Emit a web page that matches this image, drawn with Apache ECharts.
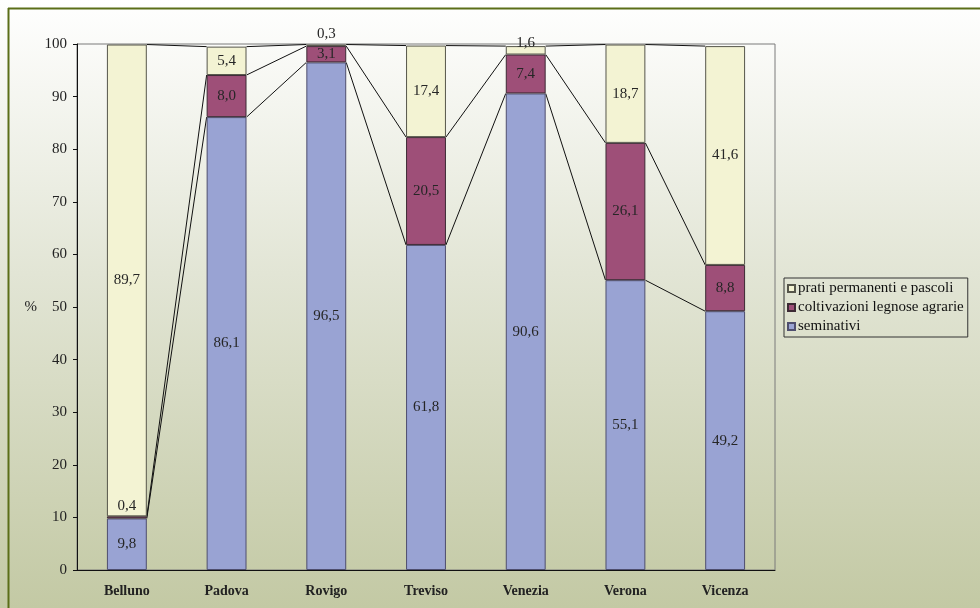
<!DOCTYPE html>
<html>
<head>
<meta charset="utf-8">
<script src="https://cdn.jsdelivr.net/npm/echarts@6/dist/echarts.min.js"></script>
<style>
  html, body { margin: 0; padding: 0; }
  #chart { width: 980px; height: 608px; }
</style>
</head>
<body>
<div id="chart"></div>
<script>
// Province of the Veneto region
const categories = ['Belluno', 'Padova', 'Rovigo', 'Treviso', 'Venezia', 'Verona', 'Vicenza'];

// Share of utilised agricultural area (%) by land use
const seminativi = [9.8, 86.1, 96.5, 61.8, 90.6, 55.1, 49.2];
const coltivazioniLegnose = [0.4, 8.0, 3.1, 20.5, 7.4, 26.1, 8.8];
const pratiPascoli = [89.7, 5.4, 0.3, 17.4, 1.6, 18.7, 41.6];

const yTicks = [0, 10, 20, 30, 40, 50, 60, 70, 80, 90, 100];

const seriesNames = ['seminativi', 'coltivazioni legnose agrarie', 'prati permanenti e pascoli'];
const stacks = [seminativi, coltivazioniLegnose, pratiPascoli];

// cumulative tops of each stacked segment, per province
const cumulative = categories.map((_, i) => {
  let s = 0;
  return stacks.map(arr => (s += arr[i]));
});

const BAR_RATIO = 0.4;
const serif = '"Liberation Serif", "Times New Roman", serif';

function fmt(v) { return v.toFixed(1).replace('.', ','); }

function labelFor(v) {
  // tiny segments carry their label just above them
  if (v < 1) return { show: true, position: 'top', distance: 3 };
  if (v < 2) return { show: true, position: 'inside', offset: [0, -7] };
  return { show: true, position: 'inside' };
}

const colors = ['#99a3d3', '#9e4f78', '#f3f3d3'];
const borders = ['#4e4e6e', '#3c2a34', '#55554a'];

const barSeries = stacks.map((arr, k) => ({
  name: seriesNames[k],
  type: 'bar',
  stack: 'total',
  barWidth: (BAR_RATIO * 100) + '%',
  itemStyle: { color: colors[k], borderColor: borders[k], borderWidth: 1 },
  label: {
    color: '#262626',
    fontFamily: serif,
    fontSize: 15,
    formatter: p => fmt(p.value)
  },
  data: arr.map(v => ({ value: v, label: labelFor(v) })),
  z: 3
}));

// Series lines linking the tops of the stacked segments of neighbouring bars
const linkData = categories.slice(0, -1).map((_, i) => [i].concat(cumulative[i], cumulative[i + 1]));

const linkSeries = {
  type: 'custom',
  silent: true,
  z: 2,
  data: linkData,
  encode: { x: 0, y: 1 },
  renderItem: function (params, api) {
    const i = api.value(0);
    const half = api.size([1, 0])[0] * BAR_RATIO / 2;
    const children = [];
    for (let k = 0; k < 3; k++) {
      const a = api.coord([i, api.value(1 + k)]);
      const b = api.coord([i + 1, api.value(4 + k)]);
      children.push({
        type: 'line',
        shape: { x1: a[0] + half, y1: a[1], x2: b[0] - half, y2: b[1] },
        style: { stroke: '#111', lineWidth: 1 }
      });
    }
    return { type: 'group', children: children };
  }
};

const chart = echarts.init(document.getElementById('chart'), null, { renderer: 'canvas' });

chart.setOption({
  animation: false,
  backgroundColor: {
    type: 'linear', x: 0, y: 0, x2: 0, y2: 1,
    colorStops: [
      { offset: 0, color: '#ffffff' },
      { offset: 0.45, color: '#e2e5d5' },
      { offset: 1, color: '#c3c9a4' }
    ]
  },
  graphic: [
    { type: 'line', shape: { x1: 8, y1: 8.5, x2: 980, y2: 8.5 }, style: { stroke: '#5b6e18', lineWidth: 2 } },
    { type: 'line', shape: { x1: 8.5, y1: 8, x2: 8.5, y2: 608 }, style: { stroke: '#5b6e18', lineWidth: 2 } }
  ],
  grid: {
    left: 77, right: 205, top: 44, bottom: 38,
    show: true, borderColor: '#7a7a7a', borderWidth: 1, backgroundColor: 'transparent'
  },
  legend: {
    orient: 'vertical',
    left: 784, top: 278,
    data: seriesNames.slice().reverse(),
    itemWidth: 7, itemHeight: 7, itemGap: 4,
    padding: [3, 4, 3, 3],
    borderColor: '#333', borderWidth: 1,
    textStyle: { fontFamily: serif, fontSize: 15, color: '#111', padding: [0, 0, 0, -2] },
    icon: 'rect'
  },
  xAxis: {
    type: 'category',
    data: categories,
    axisLine: { lineStyle: { color: '#111', width: 1 } },
    axisTick: { show: false },
    axisLabel: { fontFamily: serif, fontWeight: 'bold', fontSize: 14, color: '#222', margin: 14 }
  },
  yAxis: {
    type: 'value',
    min: 0, max: 100, interval: 10,
    name: '%',
    nameLocation: 'middle',
    nameRotate: 0,
    nameGap: 40,
    nameTextStyle: { fontFamily: serif, fontSize: 15, color: '#222' },
    splitLine: { show: false },
    axisLine: { show: true, lineStyle: { color: '#111', width: 1 } },
    axisTick: { show: true, length: 4, lineStyle: { color: '#111' } },
    axisLabel: {
      fontFamily: serif, fontSize: 15, color: '#222', margin: 10,
      formatter: v => (yTicks.indexOf(v) >= 0 ? String(v) : '')
    }
  },
  series: barSeries.concat([linkSeries])
});
</script>
</body>
</html>
